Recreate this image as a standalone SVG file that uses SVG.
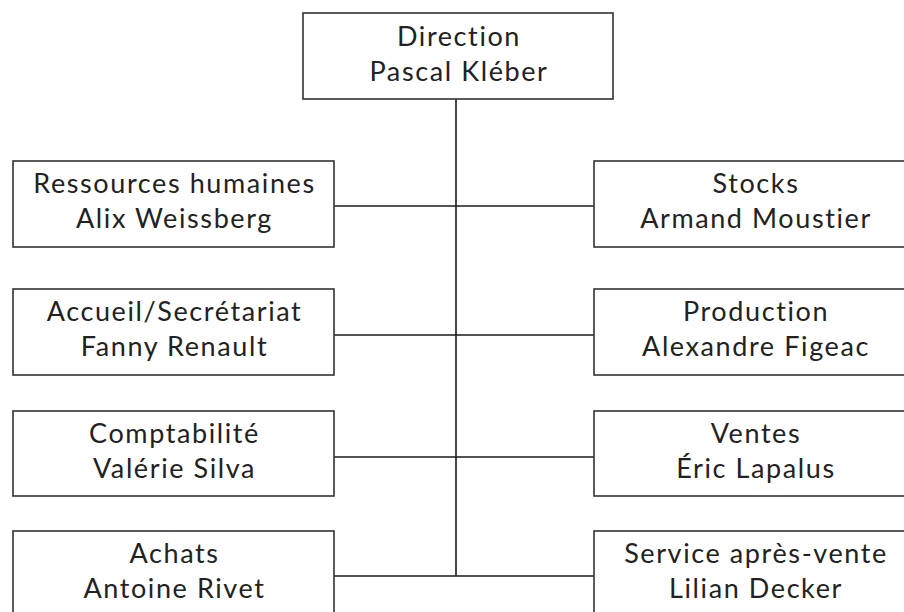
<svg xmlns="http://www.w3.org/2000/svg" width="904" height="612" viewBox="0 0 904 612">
<style>
.box{fill:#fff;stroke:#333;stroke-width:1.6}
.t{font-family:Lato,"Open Sans","Liberation Sans",sans-serif;font-size:27px;letter-spacing:1.6px;fill:#222;text-anchor:middle}
.c{stroke:#1a1a1a;stroke-width:1.6;fill:none}
</style>
<rect width="904" height="612" fill="#fff"/>
<g id="connectors">
<line class="c" x1="456" y1="99" x2="456" y2="576"/>
<line class="c" x1="334" y1="206" x2="594" y2="206"/>
<line class="c" x1="334" y1="335" x2="594" y2="335"/>
<line class="c" x1="334" y1="457" x2="594" y2="457"/>
<line class="c" x1="334" y1="576" x2="594" y2="576"/>
</g>
<g id="direction">
<rect class="box" x="303" y="13" width="310" height="86"/>
<text class="t" x="459" y="46">Direction</text>
<text class="t" x="459" y="81">Pascal Kléber</text>
</g>
<g id="rh">
<rect class="box" x="13" y="161" width="321" height="86"/>
<text class="t" x="174.5" y="193">Ressources humaines</text>
<text class="t" x="174.5" y="228">Alix Weissberg</text>
</g>
<g id="accueil">
<rect class="box" x="13" y="289" width="321" height="86"/>
<text class="t" x="174.5" y="321">Accueil/Secrétariat</text>
<text class="t" x="174.5" y="356">Fanny Renault</text>
</g>
<g id="compta">
<rect class="box" x="13" y="411" width="321" height="85"/>
<text class="t" x="174.5" y="443">Comptabilité</text>
<text class="t" x="174.5" y="478">Valérie Silva</text>
</g>
<g id="achats">
<rect class="box" x="13" y="531" width="321" height="90"/>
<text class="t" x="174.5" y="563">Achats</text>
<text class="t" x="174.5" y="598">Antoine Rivet</text>
</g>
<g id="stocks">
<rect class="box" x="594" y="161" width="322" height="86"/>
<text class="t" x="756" y="193">Stocks</text>
<text class="t" x="756" y="228">Armand Moustier</text>
</g>
<g id="production">
<rect class="box" x="594" y="289" width="322" height="86"/>
<text class="t" x="756" y="321">Production</text>
<text class="t" x="756" y="356">Alexandre Figeac</text>
</g>
<g id="ventes">
<rect class="box" x="594" y="411" width="322" height="85"/>
<text class="t" x="756" y="443">Ventes</text>
<text class="t" x="756" y="478">Éric Lapalus</text>
</g>
<g id="sav">
<rect class="box" x="594" y="531" width="322" height="90"/>
<text class="t" x="756" y="563">Service après-vente</text>
<text class="t" x="756" y="598">Lilian Decker</text>
</g>
</svg>
